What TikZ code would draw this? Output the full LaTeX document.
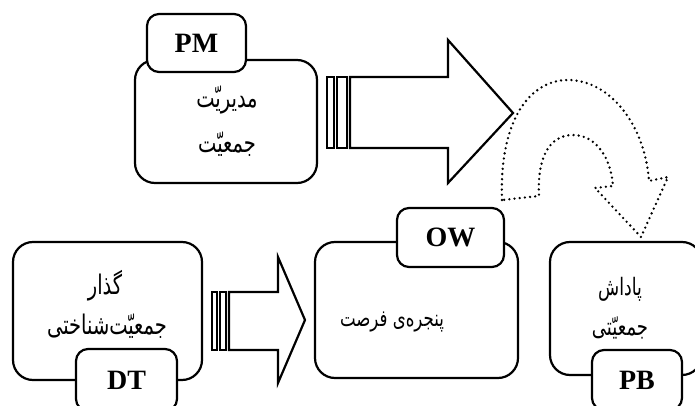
\documentclass[tikz,border=0pt]{standalone}
\usepackage{fontspec}
\setmainfont{Liberation Serif}
\newfontfamily\arabicfont[Script=Arabic, FakeStretch=0.72]{DejaVu Sans}
\newfontfamily\tagfont{Liberation Serif Bold}
\TeXXeTstate=1
\begin{document}
\begin{tikzpicture}[x=1pt,y=-1pt,
  bigbox/.style={draw, line width=2.2pt, rounded corners=20pt, fill=white},
  tagbox/.style={draw, line width=2.2pt, rounded corners=12pt, fill=white, inner sep=0pt, font=\tagfont\fontsize{28}{30}\selectfont},
  fatext/.style={font=\arabicfont\fontsize{#1}{#1}\selectfont, inner sep=0pt},
  fatext/.default=26,
  blockarrow/.style={draw, line width=2.2pt, fill=white, line join=miter},
  dotarrow/.style={draw, line width=2.6pt, line cap=round, dash pattern=on 0pt off 5.2pt}
]
\useasboundingbox (0,0) rectangle (695,406);
\clip (0,0) rectangle (695,406);
\fill[white] (0,0) rectangle (695,406);

% PM
\path[bigbox] (135,60) rectangle (317,183);
\node[tagbox, minimum width=99pt, minimum height=58pt] (pm) at (196.5,43) {PM};
\node[fatext=27] (pm1) at (227,100) {\beginR مدیریّت\endR};
\node[fatext=27] (pm2) at (227,144) {\beginR جمعیّت\endR};

% top block arrow
\draw[blockarrow] (327,77) rectangle (334,148);
\draw[blockarrow] (337,77) rectangle (347,148);
\draw[blockarrow] (350,77) -- (448,77) -- (448,40) -- (513,113) -- (448,183) -- (448,148) -- (350,148) -- cycle;

% curved dotted arrow
\draw[dotarrow] (502,200) .. controls (499,120) and (530,80) .. (568,80)
  .. controls (610,80) and (645,125) .. (649,181)
  -- (668,177) -- (641,237) -- (595,188) -- (613,186)
  .. controls (611,158) and (596,135) .. (573,135)
  .. controls (548,135) and (537,160) .. (539,196) -- cycle;

% DT
\path[bigbox] (13,242) rectangle (202,380);
\node[tagbox, minimum width=101pt, minimum height=62pt] (dt) at (126.5,380) {DT};
\node[fatext=27] (dt1) at (105,286) {\beginR گذار\endR};
\node[fatext=27] (dt2) at (107,326) {\beginR جمعیّت‌شناختی\endR};

% bottom block arrow
\draw[blockarrow] (212,292) rectangle (217,350);
\draw[blockarrow] (220,292) rectangle (226,350);
\draw[blockarrow] (229,292) -- (278,292) -- (278,257) -- (305,320) -- (278,383) -- (278,350) -- (229,350) -- cycle;

% OW
\path[bigbox] (315,242) rectangle (518,378);
\node[tagbox, minimum width=107pt, minimum height=59pt] (ow) at (450.5,237.5) {OW};
\node[fatext=23] (ow1) at (392,322) {\beginR پنجره‌ی فرصت\endR};

% PB
\path[bigbox] (550,242) rectangle (702,375);
\node[tagbox, minimum width=90pt, minimum height=60pt] (pb) at (637,380) {PB};
\node[fatext=24] (pb1) at (620,289) {\beginR پاداش\endR};
\node[fatext=25] (pb2) at (620,328) {\beginR جمعیّتی\endR};
\end{tikzpicture}
\end{document}
